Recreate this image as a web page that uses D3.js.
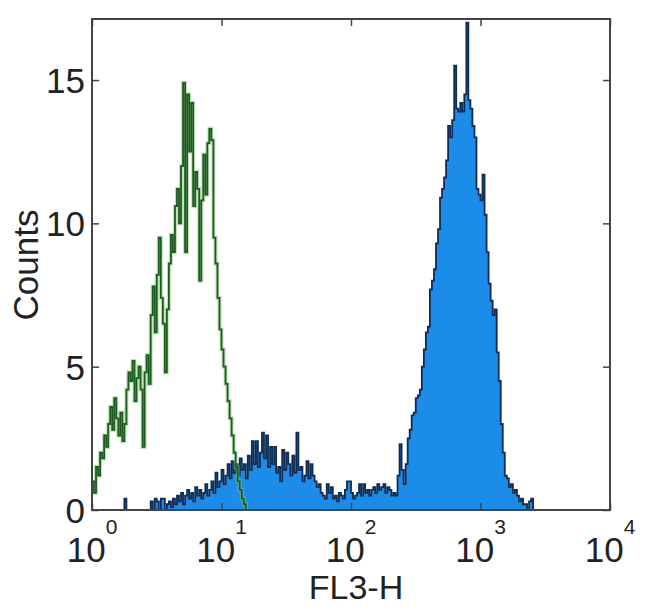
<!DOCTYPE html>
<html><head><meta charset="utf-8">
<script src="https://cdn.jsdelivr.net/npm/d3@7"></script>
<style>body{margin:0;background:#fff;}svg{display:block;}</style>
</head><body><svg id="c" width="650" height="615"></svg>
<script>
// ---- data ----
const xTickValues = [1, 10, 100, 1000, 10000];
const xTickExponents = ["0", "1", "2", "3", "4"];
const yTickValues = [0, 5, 10, 15];
const xLabel = "FL3-H";
const yLabel = "Counts";
const channelsPerDecade = 64;
const greenStartChannel = 0;
const greenCounts = [1.0,0.6,1.5,1.2,2.0,1.8,2.6,2.2,3.0,3.6,2.8,3.9,3.2,2.6,3.4,2.4,3.0,4.2,4.8,4.5,
  5.2,3.8,4.6,5.0,4.2,2.2,4.8,5.4,4.4,6.8,7.8,6.2,8.2,9.5,7.4,6.5,4.8,7.0,8.6,9.6,
  9.0,10.6,11.2,10.0,12.0,14.9,9.0,14.5,12.5,14.2,10.6,11.8,11.2,8.0,10.8,12.4,11.0,12.8,13.3,12.9,
  9.5,8.6,7.4,6.3,5.6,5.0,4.4,3.8,3.2,2.6,2.0,1.5,1.0,0.7,0.4,0.2,0];
const blueStartChannel = 9;
const blueCounts = [0,0,0,0,0,0,0, 0.4, 0,0,0,0,0,0,0,0,0,0,0,0,
  0.3,0,0.4,0.3,0,0.4,0.4,0,0.2,0.3,0.1,0.4,0.2,
  0.5,0.3,0.6,0.2,0.5,0.7,0.4,0.6,0.3,0.8,0.5,0.7,0.4,0.6,0.9,0.5,0.7,1.0,0.6,
  1.3,0.8,1.0,1.4,0.9,1.2,1.6,1.1,1.7,1.3,1.6,1.2,1.8,1.4,1.6,1.1,1.9,1.4,
  2.4,1.6,2.4,1.5,2.0,2.7,1.8,2.6,1.5,2.2,1.6,2.2,1.3,1.5,1.0,2.1,1.4,2.0,1.6,1.2,1.9,1.3,
  2.7,1.4,1.5,1.0,1.2,1.7,1.1,1.6,1.2,1.0,0.8,0.9,0.6,0.5,0.4,0.9,0.6,0.8,0.4,0.5,0.3,0.6,
  0.5,0.4,0.7,1.0,1.0,0.6,0.4,0.5,0.6,0.9,0.5,0.9,0.6,0.7,0.5,0.7,0.8,0.6,0.9,0.7,0.8,0.9,0.6,0.8,0.7,0.5,0.6,0.5,
  1.2,2.3,1.4,0.9,1.6,2.5,2.8,3.3,3.4,3.9,4.0,4.2,5.0,5.6,6.2,6.4,7.7,8.0,8.4,9.3,
  9.8,10.9,11.2,11.6,12.2,13.4,13.0,13.6,15.5,14.0,13.9,14.2,13.9,14.5,17.0,14.3,14.0,13.4,13.0,11.2,
  11.0,10.8,11.7,10.3,9.0,7.9,7.3,6.8,7.0,5.5,4.5,3.0,2.0,1.2,1.1,0.8,0.9,0.6,0.7,0.5,
  0.3,0.4,0.2,0.2,0,0.3,0.4,0];

// ---- layout ----
const L = 92, R = 610, T = 19, B = 510;
const svg = d3.select("#c");
const x = d3.scaleLog().domain([1, 10000]).range([L, R]);
const y = d3.scaleLinear().domain([0, 17.13]).range([B, T]);
const font = "'Liberation Sans', Arial, Helvetica, sans-serif";

svg.append("defs").append("clipPath").attr("id", "clip")
  .append("rect").attr("x", L).attr("y", T).attr("width", R - L).attr("height", B - T);

function toPoints(start, counts) {
  const pts = counts.map((v, i) => ({ e: Math.pow(10, (start + i) / channelsPerDecade), v }));
  pts.push({ e: Math.pow(10, (start + counts.length) / channelsPerDecade), v: counts[counts.length - 1] });
  return pts;
}
const bluePts = toPoints(blueStartChannel, blueCounts);
const greenPts = toPoints(greenStartChannel, greenCounts);
const stepLine = d3.line().curve(d3.curveStepAfter).x(d => x(d.e)).y(d => y(d.v));

const g = svg.append("g").attr("clip-path", "url(#clip)");
g.append("path").datum(bluePts)
  .attr("d", d3.area().curve(d3.curveStepAfter).x(d => x(d.e)).y0(y(0)).y1(d => y(d.v)))
  .attr("fill", "#1b8de8");
g.append("path").datum(bluePts).attr("d", stepLine)
  .attr("fill", "none").attr("stroke", "#0c2c55").attr("stroke-width", 1.8);
g.append("path").datum(greenPts).attr("d", stepLine)
  .attr("fill", "none").attr("stroke", "#86cc7e").attr("stroke-width", 4).attr("opacity", 0.55);
g.append("path").datum(greenPts).attr("d", stepLine)
  .attr("fill", "none").attr("stroke", "#1c5a1f").attr("stroke-width", 1.8);

// ---- axes box & ticks ----
const axisColor = "#444";
const tickLen = 7;
const bottomAxis = d3.axisBottom(x).tickValues(xTickValues).tickSize(-tickLen).tickFormat("");
const topAxis = d3.axisTop(x).tickValues(xTickValues).tickSize(-tickLen).tickFormat("");
const leftAxis = d3.axisLeft(y).tickValues(yTickValues).tickSize(-tickLen).tickFormat("");
const rightAxis = d3.axisRight(y).tickValues(yTickValues).tickSize(-tickLen).tickFormat("");
[[bottomAxis, `translate(0,${B})`], [topAxis, `translate(0,${T})`],
 [leftAxis, `translate(${L},0)`], [rightAxis, `translate(${R},0)`]].forEach(([ax, tr]) => {
  const a = svg.append("g").attr("transform", tr).call(ax);
  a.select(".domain").remove();
  a.selectAll("line").attr("stroke", axisColor).attr("stroke-width", 1.5);
});
svg.append("rect").attr("x", L).attr("y", T).attr("width", R - L).attr("height", B - T)
  .attr("fill", "none").attr("stroke", axisColor).attr("stroke-width", 2);

// ---- tick labels ----
const xl = svg.append("g");
xTickValues.forEach((v, i) => {
  const t = xl.append("text").attr("x", x(v)).attr("y", 562).attr("text-anchor", "middle")
    .attr("font-family", font).attr("fill", "#222");
  t.append("tspan").attr("font-size", 35).text("10");
  t.append("tspan").attr("font-size", 21).attr("dy", -28).text(xTickExponents[i]);
});
yTickValues.forEach(v => {
  svg.append("text").attr("x", 85).attr("y", y(v) + 13).attr("text-anchor", "end")
    .attr("font-family", font).attr("font-size", 35).attr("fill", "#222").text(v);
});
svg.append("text").attr("x", 356).attr("y", 599).attr("text-anchor", "middle")
  .attr("font-family", font).attr("font-size", 34).attr("fill", "#222").text(xLabel);
svg.append("text").attr("transform", "translate(38,265) rotate(-90)").attr("text-anchor", "middle")
  .attr("font-family", font).attr("font-size", 35).attr("fill", "#222").text(yLabel);
</script></body></html>
